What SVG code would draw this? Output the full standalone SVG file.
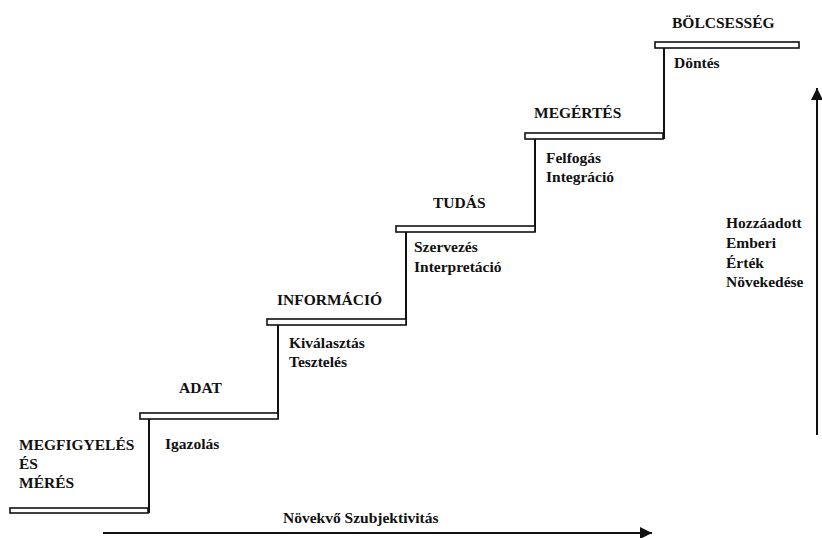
<svg xmlns="http://www.w3.org/2000/svg" width="822" height="538" viewBox="0 0 822 538">
  <style>
    .tread { fill: #fff; stroke: #111; stroke-width: 1.6; }
    .riser { fill: none; stroke: #111; stroke-width: 2; }
    .axis { fill: none; stroke: #111; stroke-width: 2; }
    text { font-family: "Liberation Serif", "Times New Roman", serif; font-weight: bold; font-size: 15.5px; fill: #111; }
  </style>
  <defs>
    <marker id="head" viewBox="0 0 10 10" refX="10" refY="5" markerWidth="9" markerHeight="6" markerUnits="strokeWidth" orient="auto">
      <path d="M0,0 L10,5 L0,10 Z" fill="#111"/>
    </marker>
  </defs>

  <!-- risers joining each tread to the one above, plus the two axes -->
  <g id="connectors">
    <path class="riser" d="M149,513 V419"/>
    <path class="riser" d="M278,419 V325"/>
    <path class="riser" d="M406,325 V232"/>
    <path class="riser" d="M535,232 V139"/>
    <path class="riser" d="M664,139 V48"/>
    <path class="axis" d="M103,533 H652" marker-end="url(#head)"/>
    <path class="axis" d="M817,435 V88" marker-end="url(#head)"/>
  </g>

  <g id="step-megfigyeles">
    <rect class="tread" x="10" y="508" width="138" height="5"/>
    <text x="19" y="450">MEGFIGYELÉS</text>
    <text x="19" y="469">ÉS</text>
    <text x="19" y="488">MÉRÉS</text>
  </g>

  <g id="step-adat">
    <rect class="tread" x="140" y="413" width="138" height="6"/>
    <text x="179" y="393">ADAT</text>
    <text x="165" y="449">Igazolás</text>
  </g>

  <g id="step-informacio">
    <rect class="tread" x="267" y="319" width="139" height="6"/>
    <text x="277" y="305">INFORMÁCIÓ</text>
    <text x="289" y="348">Kiválasztás</text>
    <text x="289" y="367">Tesztelés</text>
  </g>

  <g id="step-tudas">
    <rect class="tread" x="396" y="226" width="139" height="6"/>
    <text x="433" y="208">TUDÁS</text>
    <text x="414" y="252">Szervezés</text>
    <text x="414" y="272">Interpretáció</text>
  </g>

  <g id="step-megertes">
    <rect class="tread" x="525" y="133" width="138" height="6"/>
    <text x="534" y="118">MEGÉRTÉS</text>
    <text x="546" y="163">Felfogás</text>
    <text x="546" y="182">Integráció</text>
  </g>

  <g id="step-bolcsesseg">
    <rect class="tread" x="655" y="42" width="144" height="6"/>
    <text x="672" y="28">BÖLCSESSÉG</text>
    <text x="674" y="68">Döntés</text>
  </g>

  <g id="label-value">
    <text x="726" y="228">Hozzáadott</text>
    <text x="726" y="248">Emberi</text>
    <text x="726" y="268">Érték</text>
    <text x="726" y="287">Növekedése</text>
  </g>

  <g id="label-subjectivity">
    <text x="283" y="523">Növekvő Szubjektivitás</text>
  </g>
</svg>
